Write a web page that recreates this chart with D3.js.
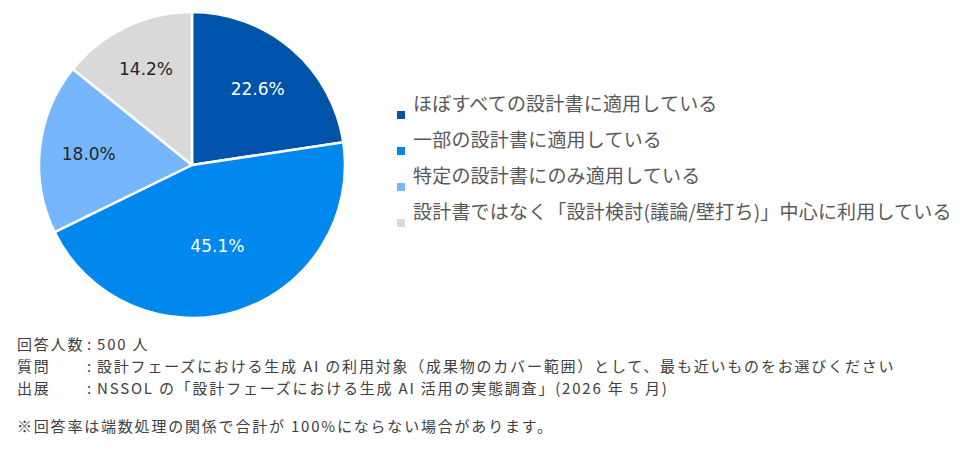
<!DOCTYPE html>
<html><head><meta charset="utf-8">
<script src="https://cdn.jsdelivr.net/npm/d3@7"></script>
<style>
html,body{margin:0;padding:0;background:#fff;}
svg{display:block;}
text{font-family:"DejaVu Sans","Noto Sans CJK JP",sans-serif;}
.jp{font-family:"Noto Sans CJK JP",sans-serif;}
.ft{font-size:15px;letter-spacing:1.8px;fill:#404040;}
</style></head>
<body>
<svg id="chart" width="960" height="455"></svg>
<script>
const categories = [
  "ほぼすべての設計書に適用している",
  "一部の設計書に適用している",
  "特定の設計書にのみ適用している",
  "設計書ではなく「設計検討(議論/壁打ち)」中心に利用している"
];
const values = [22.6, 45.1, 18.0, 14.2];
const colors = ["#0053AB", "#0088EE", "#76B6FC", "#D9D9D9"];
const labelColors = ["#ffffff", "#ffffff", "#262626", "#262626"];
const footerLabels = ["回答人数", "質問", "出展"];
const footerValues = [
  "500 人",
  "設計フェーズにおける生成 AI の利用対象（成果物のカバー範囲）として、最も近いものをお選びください",
  "NSSOL の「設計フェーズにおける生成 AI 活用の実態調査」(2026 年 5 月)"
];
const note = "※回答率は端数処理の関係で合計が 100%にならない場合があります。";

const svg = d3.select("#chart");
const cx = 192, cy = 165, r = 153;

const pie = d3.pie().sort(null).value(d => d)(values);
const arc = d3.arc().innerRadius(0).outerRadius(r);
// smaller slices push their label further out (best-fit style)
const labelPos = d => {
  const lr = r * (0.76 - 0.0045 * d.data);
  return d3.arc().innerRadius(lr).outerRadius(lr).centroid(d);
};

const g = svg.append("g").attr("transform", `translate(${cx},${cy})`);
g.selectAll("path").data(pie).join("path")
  .attr("d", arc)
  .attr("fill", (d, i) => colors[i])
  .attr("stroke", "#fff")
  .attr("stroke-width", 2.5)
  .attr("stroke-linejoin", "round");

g.selectAll("text.lbl").data(pie).join("text")
  .attr("class", "lbl")
  .attr("transform", d => `translate(${labelPos(d)})`)
  .attr("text-anchor", "middle")
  .attr("dy", "0.36em")
  .attr("font-size", 17)
  .attr("fill", (d, i) => labelColors[i])
  .text(d => d.data.toFixed(1) + "%");

// legend
const lg = svg.append("g").attr("transform", "translate(397,0)");
const rowY = d3.scalePoint().domain(d3.range(categories.length)).range([104, 212]);
categories.forEach((c, i) => {
  const y = rowY(i);
  lg.append("rect").attr("x", 0).attr("y", y + 7).attr("width", 8).attr("height", 8).attr("fill", colors[i]);
  lg.append("text").attr("class", "jp").attr("x", 16).attr("y", y).attr("dy", "0.35em")
    .attr("font-size", 19).attr("letter-spacing", 0.2).attr("fill", "#595959")
    .text(c);
});

// footer
const fy = d3.scalePoint().domain(d3.range(footerLabels.length)).range([345, 389]);
footerLabels.forEach((l, i) => {
  svg.append("text").attr("class", "jp ft").attr("x", 17).attr("y", fy(i)).attr("dy", "0.35em").text(l);
  svg.append("text").attr("class", "jp ft").attr("x", 87).attr("y", fy(i)).attr("dy", "0.35em").text(":");
  svg.append("text").attr("class", "jp ft").attr("x", 97).attr("y", fy(i)).attr("dy", "0.35em").text(footerValues[i]);
});
svg.append("text").attr("class", "jp ft").attr("x", 17).attr("y", 427).attr("dy", "0.35em").text(note);
</script>
</body></html>
